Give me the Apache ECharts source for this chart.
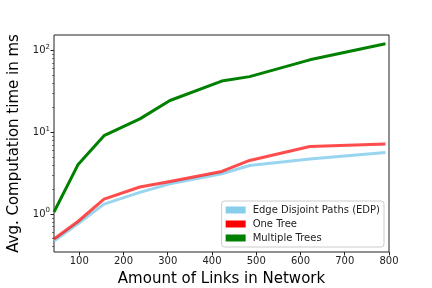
<!DOCTYPE html>
<html><head><meta charset="utf-8">
<script src="https://cdn.jsdelivr.net/npm/echarts@6/dist/echarts.min.js"></script>
<style>html,body{margin:0;padding:0;background:#fff}#c{width:432px;height:288px}</style>
</head><body><div id="c"></div>
<script>
const links = [43, 97, 156, 237, 305, 422, 485, 621, 792];
const edp = [0.468, 0.76, 1.32, 1.84, 2.35, 3.11, 3.93, 4.7, 5.66];
const oneTree = [0.494, 0.81, 1.52, 2.14, 2.5, 3.32, 4.52, 6.7, 7.2];
const multiTrees = [1.06, 4.0, 9.1, 14.6, 24.5, 42.3, 48, 77, 121];
const xTicks = [100, 200, 300, 400, 500, 600, 700, 800];
const yMajorTicks = [1, 10, 100];
const yMinorTicks = [0.4,0.5,0.6,0.7,0.8,0.9,2,3,4,5,6,7,8,9,20,30,40,50,60,70,80,90];
const xMin = 43, xMax = 800, yMin = 0.343, yMax = 155;

const font = 'DejaVu Sans';
const pair = (xs, ys) => xs.map((x, i) => [x, ys[i]]);
const chart = echarts.init(document.getElementById('c'), null, {renderer: 'canvas'});
chart.setOption({
  animation: false,
  grid: {left: 54, right: 43, top: 35, bottom: 36, show: true, borderColor: '#222', borderWidth: 1,
         containLabel: false, outerBoundsMode: 'none'},
  xAxis: {
    type: 'value', min: xMin, max: xMax,
    name: 'Amount of Links in Network', nameLocation: 'middle', nameGap: 20,
    nameTextStyle: {fontFamily: font, fontSize: 15, color: '#000'},
    axisLine: {show: false},
    splitLine: {show: false},
    axisTick: {show: true, length: 3.5, lineStyle: {color: '#222'}, customValues: xTicks},
    axisLabel: {customValues: xTicks, fontFamily: font, fontSize: 10, color: '#222', margin: 4}
  },
  yAxis: [{
    type: 'log', logBase: 10, min: yMin, max: yMax,
    name: 'Avg. Computation time in ms', nameLocation: 'middle', nameGap: 29,
    nameTextStyle: {fontFamily: font, fontSize: 15, color: '#000'},
    axisLine: {show: false},
    splitLine: {show: false},
    axisTick: {show: true, length: 3.5, lineStyle: {color: '#222'}, customValues: yMajorTicks},
    axisLabel: {
      customValues: yMajorTicks, margin: 4,
      formatter: v => '{b|10}{s|' + Math.round(Math.log10(v)) + '}',
      rich: {
        b: {fontFamily: font, fontSize: 10, color: '#222', lineHeight: 14},
        s: {fontFamily: font, fontSize: 7, color: '#222', lineHeight: 8, verticalAlign: 'top'}
      }
    }
  }, {
    type: 'log', logBase: 10, min: yMin, max: yMax, position: 'left',
    axisLine: {show: false}, splitLine: {show: false}, axisLabel: {show: false},
    axisTick: {show: true, length: 2, lineStyle: {color: '#222', width: 0.6}, customValues: yMinorTicks}
  }],
  legend: {
    orient: 'vertical', right: 48, bottom: 41,
    backgroundColor: 'rgba(255,255,255,0.8)', borderColor: '#ccc', borderWidth: 1, borderRadius: 3,
    padding: [4, 4, 4, 4], itemGap: 4, itemWidth: 20, itemHeight: 7, icon: 'rect',
    textStyle: {fontFamily: font, fontSize: 10, color: '#222', padding: [0, 0, 0, 2]},
    data: ['Edge Disjoint Paths (EDP)', 'One Tree', 'Multiple Trees']
  },
  series: [
    {name: 'Edge Disjoint Paths (EDP)', type: 'line', data: pair(links, edp), symbol: 'none',
     itemStyle: {color: '#87CEEB'}, lineStyle: {color: 'rgba(135,206,235,0.85)', width: 3}},
    {name: 'One Tree', type: 'line', data: pair(links, oneTree), symbol: 'none',
     itemStyle: {color: '#ff0000'}, lineStyle: {color: 'rgba(255,0,0,0.7)', width: 3}},
    {name: 'Multiple Trees', type: 'line', data: pair(links, multiTrees), symbol: 'none',
     itemStyle: {color: '#008000'}, lineStyle: {color: '#008000', width: 3}}
  ]
});
</script></body></html>
